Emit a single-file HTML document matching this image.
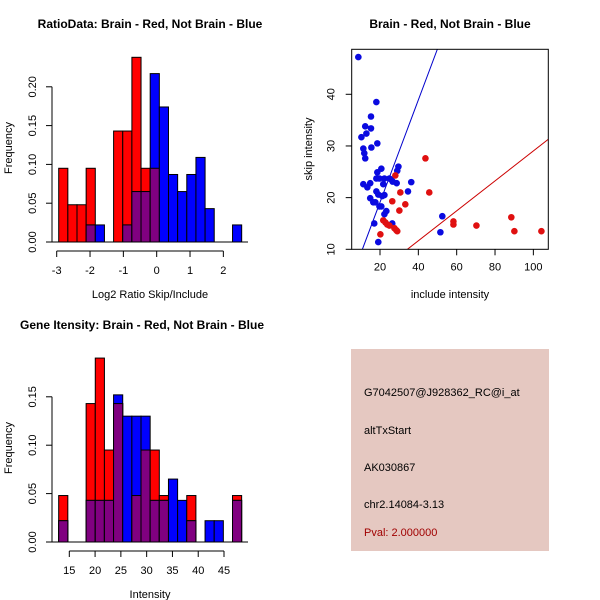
<!DOCTYPE html>
<html><head><meta charset="utf-8"><style>
body{margin:0;background:#fff}
svg{display:block;font-family:"Liberation Sans",sans-serif}
</style></head><body>
<svg id="s" width="600" height="600" xmlns="http://www.w3.org/2000/svg">
<rect width="600" height="600" fill="#fff"/>
<g id="info">
<rect x="351" y="349" width="198" height="202" fill="#e5c8c1"/>
<text x="364" y="396" font-size="11">G7042507@J928362_RC@i_at</text>
<text x="364" y="434" font-size="11">altTxStart</text>
<text x="364" y="471" font-size="11">AK030867</text>
<text x="364" y="508" font-size="11">chr2.14084-3.13</text>
<text x="364" y="536" font-size="11" fill="#a00000">Pval: 2.000000</text>
</g>
</svg>
<script>
// ---- Top-left histogram data ----
const h1Start = -2.94;
const h1Width = 0.2745;
const h1Red = [0.095,0.048,0.048,0.095,0,0,0.143,0.143,0.238,0.095,0.095,0,0,0,0,0,0,0,0,0];
const h1Blue = [0,0,0,0.022,0.022,0,0,0.022,0.065,0.065,0.217,0.174,0.087,0.065,0.087,0.109,0.043,0,0,0.022];
const h1XTicks = [-3,-2,-1,0,1,2];
const h1YTicks = ["0.00","0.05","0.10","0.15","0.20"];
// ---- Bottom-left histogram data ----
const h2Start = 12.94;
const h2Width = 1.774;
const h2Red = [0.048,0,0,0.143,0.190,0.095,0.143,0,0.048,0.095,0.095,0.048,0,0,0.048,0,0,0,0,0.048];
const h2Blue = [0.022,0,0,0.043,0.043,0.043,0.152,0.130,0.130,0.130,0.043,0.043,0.065,0.043,0.022,0,0.022,0.022,0,0.043];
const h2XTicks = [15,20,25,30,35,40,45];
const h2YTicks = ["0.00","0.05","0.10","0.15"];
// ---- Scatter data ----
const blueX = [8.7,18.1,15.3,12.3,15.3,12.9,10.3,11.3,15.5,18.6,11.8,12.3,20.7,29.6,29.0,18.6,18.1,19.7,22.3,24.9,25.9,26.6,28.7,36.3,11.3,14.9,13.4,21.7,34.6,18.1,19.1,22.3,21.2,14.9,16.5,17.6,19.7,20.7,23.3,22.3,52.5,17.0,26.4,51.5,19.1];
const blueY = [47.2,38.5,35.7,33.8,33.4,32.4,31.7,29.5,29.7,30.5,28.6,27.6,25.6,26.0,25.2,24.9,23.7,23.7,23.7,23.7,23.5,23.1,22.8,23.0,22.6,22.8,22.0,22.6,21.2,21.2,20.6,20.5,20.3,19.9,19.1,19.1,18.3,18.3,17.4,16.8,16.4,15.0,15.0,13.3,11.4];
const redX = [43.7,28.0,45.7,30.6,26.4,33.2,30.1,21.7,22.8,23.8,24.9,27.5,28.5,29.0,20.2,58.3,58.3,70.3,88.5,90.1,104.2];
const redY = [27.6,24.3,21.0,21.0,19.3,18.7,17.5,15.6,15.2,14.8,14.6,14.1,13.7,13.5,12.9,15.4,14.8,14.6,16.2,13.5,13.5];
const blueLine = [10.8,10,49.9,48.7];
const redLine = [34.3,10,107.8,31.3];
const scXTicks = [20,40,60,80,100];
const scYTicks = [10,20,30,40];

const NS="http://www.w3.org/2000/svg";
const svg=document.getElementById('s');
function mk(tag,attrs,parent){const e=document.createElementNS(NS,tag);for(const k in attrs)e.setAttribute(k,attrs[k]);(parent||svg).appendChild(e);return e;}
function txt(s,attrs,parent){const e=mk('text',attrs,parent);e.textContent=s;return e;}

function hist(cfg){
  const g=mk('g',{});
  
  
  const X=v=>cfg.x0px+(v-cfg.x0)*cfg.xs;
  const Y=v=>cfg.y0px-v*cfg.ys;
  const t=txt(cfg.title,{x:cfg.titleX,y:cfg.titleY,'font-size':12,'font-weight':'bold','text-anchor':'middle'},g);
  
  
  for(let i=0;i<cfg.red.length;i++){
    const l=X(cfg.start+i*cfg.w), r=X(cfg.start+(i+1)*cfg.w);
    const rv=cfg.red[i], bv=cfg.blue[i], mn=Math.min(rv,bv);
    if(rv>0){const b=mk('rect',{x:l,y:Y(rv),width:r-l,height:Y(0)-Y(rv),fill:'#ff0000',stroke:'#000','stroke-width':1},g);
      
      }
    if(bv>0){const b=mk('rect',{x:l,y:Y(bv),width:r-l,height:Y(0)-Y(bv),fill:'#0000ff',stroke:'#000','stroke-width':1},g);
      
      }
    if(mn>0){const b=mk('rect',{x:l,y:Y(mn),width:r-l,height:Y(0)-Y(mn),fill:'#800080',stroke:'#000','stroke-width':1},g);
      
      }
  }
  mk('line',{x1:cfg.axL,x2:cfg.axR,y1:Y(0),y2:Y(0),stroke:'#000'},g);
  const ya=mk('g',{},g);
  
  
  const yt=cfg.yTicks.map(Number);
  mk('line',{x1:cfg.yAxX,x2:cfg.yAxX,y1:Y(yt[0]),y2:Y(yt[yt.length-1]),stroke:'#000'},ya);
  cfg.yTicks.forEach(s=>{const v=Number(s);const y=Y(v);
    mk('line',{x1:cfg.yAxX-6,x2:cfg.yAxX,y1:y,y2:y,stroke:'#000'},ya);
    const tl=txt(s,{x:cfg.yAxX-16,y:y,'font-size':11,'text-anchor':'middle',transform:`rotate(-90 ${cfg.yAxX-16} ${y})`},ya);
    
    });
  const xa=mk('g',{},g);
  
  
  mk('line',{x1:X(cfg.xTicks[0]),x2:X(cfg.xTicks[cfg.xTicks.length-1]),y1:cfg.xAxY,y2:cfg.xAxY,stroke:'#000'},xa);
  cfg.xTicks.forEach(v=>{const x=X(v);
    mk('line',{x1:x,x2:x,y1:cfg.xAxY,y2:cfg.xAxY+6,stroke:'#000'},xa);
    const tl=txt(String(v),{x:x,y:cfg.xAxY+23,'font-size':11,'text-anchor':'middle'},xa);
    
    });
  const xl=txt(cfg.xlab,{x:150,y:cfg.xlabY,'font-size':11,'text-anchor':'middle'},g);
  
  
  const yl=txt('Frequency',{x:12,y:cfg.ylabY,'font-size':11,'text-anchor':'middle',transform:`rotate(-90 12 ${cfg.ylabY})`},g);
  
  
}
hist({name:'ratio-histogram',title:'RatioData: Brain - Red, Not Brain - Blue',titleX:150,titleY:28,
  start:h1Start,w:h1Width,red:h1Red,blue:h1Blue,xTicks:h1XTicks,yTicks:h1YTicks,
  x0:-3,x0px:56.7,xs:33.33,y0px:242,ys:776,axL:52,axR:248,yAxX:52,xAxY:251,xlab:'Log2 Ratio Skip/Include',xlabY:298,ylabY:148});
hist({name:'intensity-histogram',title:'Gene Itensity: Brain - Red, Not Brain - Blue',titleX:142,titleY:329,
  start:h2Start,w:h2Width,red:h2Red,blue:h2Blue,xTicks:h2XTicks,yTicks:h2YTicks,
  x0:15,x0px:69.3,xs:5.157,y0px:542,ys:968,axL:52,axR:248,yAxX:52,xAxY:551,xlab:'Intensity',xlabY:598,ylabY:448});

(function(){
  const g=mk('g',{});
  
  
  const L=351.7,R=548.3,T=49.3,B=249.3;
  const X=v=>380+(v-20)*1.917;
  const Y=v=>249.3-(v-10)*5.167;
  const t=txt('Brain - Red, Not Brain - Blue',{x:450,y:28,'font-size':12,'font-weight':'bold','text-anchor':'middle'},g);
  
  
  const defs=mk('defs',{},g);
  const cp=mk('clipPath',{id:'clp'},defs);
  mk('rect',{x:L,y:T,width:R-L,height:B-T},cp);
  const bl=mk('line',{x1:X(blueLine[0]),y1:Y(blueLine[1]),x2:X(blueLine[2]),y2:Y(blueLine[3]),stroke:'#0000cc','stroke-width':1,'clip-path':'url(#clp)'},g);
  
  
  const rl=mk('line',{x1:X(redLine[0]),y1:Y(redLine[1]),x2:X(redLine[2]),y2:Y(redLine[3]),stroke:'#cc0000','stroke-width':1,'clip-path':'url(#clp)'},g);
  
  
  blueX.forEach((x,i)=>{const c=mk('circle',{cx:X(x),cy:Y(blueY[i]),r:3.3,fill:'#0a0ae0'},g);
    
    });
  redX.forEach((x,i)=>{const c=mk('circle',{cx:X(x),cy:Y(redY[i]),r:3.3,fill:'#e01010'},g);
    
    });
  const box=mk('rect',{x:L,y:T,width:R-L,height:B-T,fill:'none',stroke:'#000'},g);
  
  
  scXTicks.forEach(v=>{const x=X(v);
    mk('line',{x1:x,x2:x,y1:B,y2:B+6,stroke:'#000'},g);
    const tl=txt(String(v),{x:x,y:B+21,'font-size':11,'text-anchor':'middle'},g);
    
    });
  scYTicks.forEach(v=>{const y=Y(v);
    mk('line',{x1:L-6,x2:L,y1:y,y2:y,stroke:'#000'},g);
    const tl=txt(String(v),{x:L-17,y:y,'font-size':11,'text-anchor':'middle',transform:`rotate(-90 ${L-17} ${y})`},g);
    
    });
  const xl=txt('include intensity',{x:450,y:298,'font-size':11,'text-anchor':'middle'},g);
  
  
  const yl=txt('skip intensity',{x:312,y:149,'font-size':11,'text-anchor':'middle',transform:'rotate(-90 312 149)'},g);
  
  
})();
</script>
</body></html>
